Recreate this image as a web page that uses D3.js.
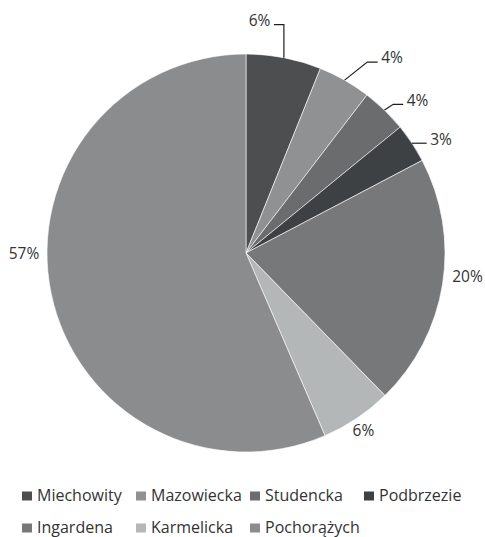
<!DOCTYPE html>
<html>
<head>
<meta charset="utf-8">
<script src="https://cdn.jsdelivr.net/npm/d3@7"></script>
<style>
body { margin:0; background:#fff; }
svg text { font-family:"Open Sans", sans-serif; fill:#333333; }
</style>
</head>
<body>
<svg id="chart"></svg>
<script>
// slices, clockwise from 12 o'clock
var sliceNames = ["Miechowity","Mazowiecka","Studencka","Podbrzezie","Ingardena","Karmelicka","Pochorążych"];
var sliceValues = [6.1, 4.3, 3.7, 3.2, 20.4, 5.8, 56.5];
var sliceLabels = ["6%","4%","4%","3%","20%","6%","57%"];
var sliceColors = ["#4d4e50","#8f9192","#6b6c6e","#3e4143","#77787a","#b4b7b8","#8b8c8e"];

// how each percent label is placed (leader line or free text)
var labelLayout = [
    {leader:true, elbowDx:0, elbowDy:-33, side:-1, run:10},
    {leader:true, elbowDx:22.7, elbowDy:-18, side:1, run:10.4},
    {leader:true, elbowDx:8.7, elbowDy:-5.8, side:1, run:10},
    {leader:true, elbowDx:0, elbowDy:0, side:1, run:14.7},
    {leader:false, angle:96, radius:222.7},
    {leader:false, angle:146.5, radius:212.8},
    {leader:false, angle:270, radius:222}
];

var width = 485;
var height = 537;
var cx = 246;
var cy = 253;
var radius = 199;
var labelSize = 15.5;

var svg = d3.select("#chart")
        .attr("width",width)
        .attr("height",height)

var g = svg.append("g")
        .attr("transform","translate("+cx+","+cy+")")

var pie = d3.pie()
        .sort(null)
        .value(function(d){ return d; })

var arcs = pie(sliceValues);

var arc = d3.arc()
        .innerRadius(0)
        .outerRadius(radius)

g.selectAll("path")
    .data(arcs)
    .enter()
    .append("path")
    .attr("d",arc)
    .attr("fill",function(d,i){ return sliceColors[i]; })
    .attr("stroke","#ffffff")
    .attr("stroke-width",0.6)

var polar = function(angle,r)
{
    return [r*Math.sin(angle), -r*Math.cos(angle)];
}

arcs.forEach(function(d,i)
{
    var lay = labelLayout[i];
    if (lay.leader)
    {
        var mid = (d.startAngle+d.endAngle)/2;
        var edge = polar(mid,radius);
        var elbow = [edge[0]+lay.elbowDx, edge[1]+lay.elbowDy];
        var end = [elbow[0]+lay.side*lay.run, elbow[1]];
        g.append("path")
            .attr("d",d3.line()([edge,elbow,end]))
            .attr("fill","none")
            .attr("stroke","#1e1e1e")
            .attr("stroke-width",1.2)
        g.append("text")
            .attr("x",end[0]+lay.side*3.5)
            .attr("y",end[1]+1.3)
            .attr("text-anchor",lay.side<0 ? "end" : "start")
            .style("font-size",labelSize+"px")
            .text(sliceLabels[i])
    }
    else
    {
        var p = polar(lay.angle*Math.PI/180,lay.radius);
        g.append("text")
            .attr("x",p[0])
            .attr("y",p[1]+labelSize*0.37)
            .attr("text-anchor","middle")
            .style("font-size",labelSize+"px")
            .text(sliceLabels[i])
    }
});

// legend: 4 columns, 2 rows
var legendX = d3.scaleLinear().domain([0,1]).range([22,136]);
var legendY = d3.scaleLinear().domain([0,1]).range([496,528]);

var legend = svg.selectAll("g.legend")
        .data(sliceNames)
        .enter()
        .append("g")
        .attr("class","legend")
        .attr("transform",function(d,i)
        {
            return "translate("+legendX(i%4)+","+legendY(Math.floor(i/4))+")";
        })

legend.append("rect")
    .attr("x",0)
    .attr("y",-4.5)
    .attr("width",10)
    .attr("height",9)
    .attr("fill",function(d,i){ return sliceColors[i]; })

legend.append("text")
    .attr("x",15)
    .attr("y",5)
    .style("font-size","16px")
    .text(function(d){ return d; })
</script>
</body>
</html>
